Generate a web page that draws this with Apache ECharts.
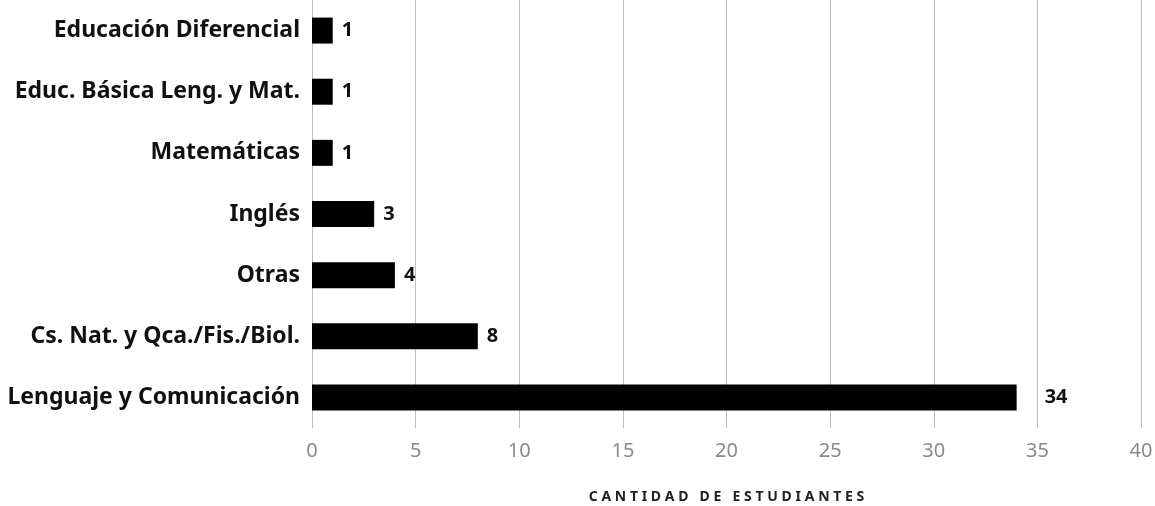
<!DOCTYPE html>
<html>
<head>
<meta charset="utf-8">
<script src="https://cdn.jsdelivr.net/npm/echarts@6/dist/echarts.min.js"></script>
<style>
  html, body { margin: 0; padding: 0; background: #fff; }
</style>
</head>
<body>
<div id="chart" style="width:1155px;height:506px"></div>
<script>
// categories from bottom to top
const categories = [
  'Lenguaje y Comunicación',
  'Cs. Nat. y Qca./Fis./Biol.',
  'Otras',
  'Inglés',
  'Matemáticas',
  'Educ. Básica Leng. y Mat.',
  'Educación Diferencial'
];
const values = [34, 8, 4, 3, 1, 1, 1];
const xTicks = [0, 40, 5];
const axisTitle = 'CANTIDAD DE ESTUDIANTES';

// spaced-out caps like the original title
const spacedTitle = axisTitle.split('').join('\u2009\u200A');

const chart = echarts.init(document.getElementById('chart'));

const font = 'Noto Sans';

const option = {
  animation: false,
  grid: {
    left: 312,
    right: 14,
    top: 0,
    bottom: 78,
    outerBoundsMode: 'none'
  },
  xAxis: {
    type: 'value',
    min: xTicks[0],
    max: xTicks[1],
    interval: xTicks[2],
    name: spacedTitle,
    nameLocation: 'middle',
    nameGap: 62,
    nameTextStyle: {
      fontFamily: font,
      fontWeight: 'bold',
      fontSize: 14,
      color: '#222'
    },
    axisLine: { show: false },
    axisTick: { show: false },
    axisLabel: {
      fontFamily: font,
      fontSize: 20,
      color: '#8a8a8a',
      margin: 13
    },
    splitLine: {
      lineStyle: { color: '#bdbdbd', width: 1 }
    }
  },
  yAxis: {
    type: 'category',
    data: categories,
    axisLine: { show: false },
    axisTick: { show: false },
    axisLabel: {
      fontFamily: font,
      fontWeight: 'bold',
      fontSize: 23,
      color: '#111',
      margin: 12
    }
  },
  series: [
    {
      type: 'bar',
      data: values.map(function (v) {
        return v > 20 ? { value: v, label: { distance: 28 } } : v;
      }),
      barWidth: 26,
      itemStyle: { color: '#000' },
      label: {
        show: true,
        position: 'right',
        distance: 9,
        fontFamily: font,
        fontWeight: 'bold',
        fontSize: 20,
        color: '#111'
      }
    }
  ]
};

chart.setOption(option);
</script>
</body>
</html>
